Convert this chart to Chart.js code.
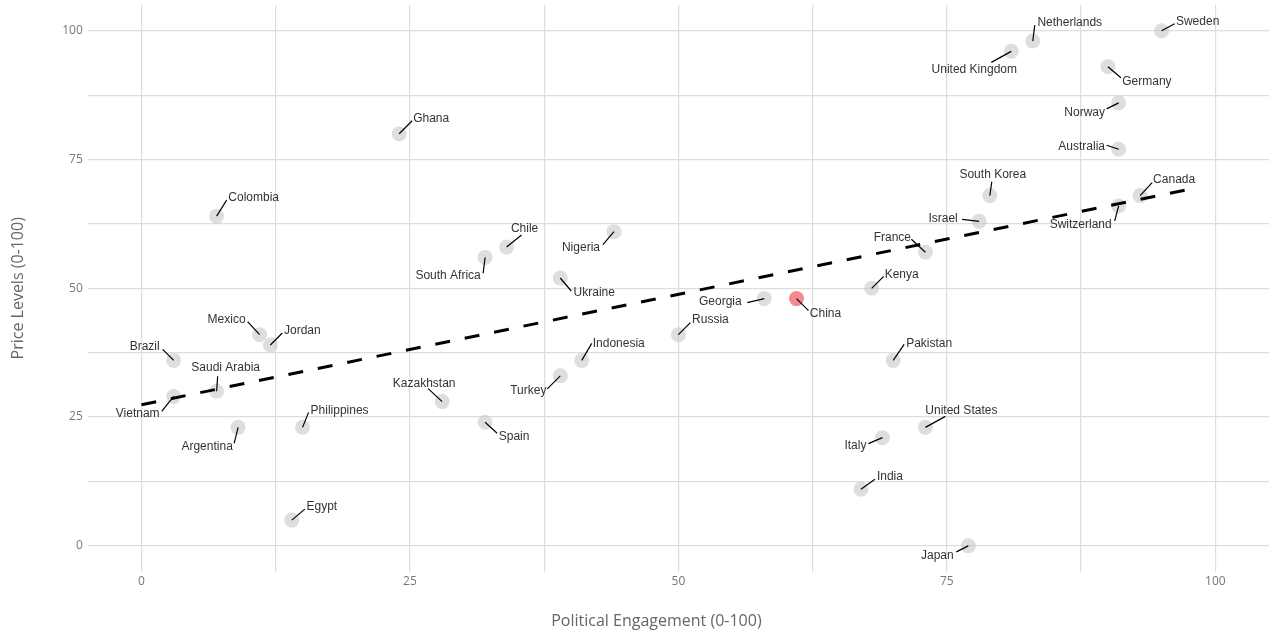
<!DOCTYPE html>
<html>
<head>
<meta charset="utf-8">
<script src="https://cdn.jsdelivr.net/npm/chart.js@4"></script>
<style>
  body { margin: 0; background: #fff; }
  canvas { display: block; }
</style>
</head>
<body>
<canvas id="grafico" width="1269" height="636"></canvas>
<script>
// Datos
const paises = ['Sweden', 'Netherlands', 'United Kingdom', 'Germany', 'Norway', 'Australia',
  'South Korea', 'Israel', 'France', 'Canada', 'Switzerland', 'Kenya', 'Georgia', 'China',
  'Russia', 'Indonesia', 'Turkey', 'Spain', 'Italy', 'India', 'Pakistan', 'United States',
  'Japan', 'Ghana', 'Colombia', 'South Africa', 'Chile', 'Nigeria', 'Ukraine', 'Mexico',
  'Jordan', 'Brazil', 'Saudi Arabia', 'Vietnam', 'Argentina', 'Philippines', 'Kazakhstan', 'Egypt'];
const compromisoPolitico = [95, 83, 81, 90, 91, 91, 79, 78, 73, 93, 91, 68, 58, 61,
  50, 41, 39, 32, 69, 67, 70, 73, 77, 24, 7, 32, 34, 44, 39, 11, 12, 3, 7, 3, 9, 15, 28, 14];
const nivelPrecios = [100, 98, 96, 93, 86, 77, 68, 63, 57, 68, 66, 50, 48, 48,
  41, 36, 33, 24, 21, 11, 36, 23, 0, 80, 64, 56, 58, 61, 52, 41, 39, 36, 30, 29, 23, 23, 28, 5];
const paisDestacado = 'China';

// Línea de tendencia (extremos leídos)
const tendenciaX = [0, 98.2];
const tendenciaY = [27.4, 69.5];

// Marcas del eje
const lineasGuia = [0, 12.5, 25, 37.5, 50, 62.5, 75, 87.5, 100];

// Posición de las etiquetas en píxeles respecto al punto: [centroX, centroY, finLineaX, finLineaY]
const posEtiquetas = {
  'Sweden': [36, -9, 13, -7], 'Netherlands': [37, -18, 2, -16], 'United Kingdom': [-37, 18, -20, 11],
  'Germany': [39, 15, 13, 11], 'Norway': [-34, 10, -12, 6], 'Australia': [-37, -3, -12, -4],
  'South Korea': [3, -21, 2, -14], 'Israel': [-36, -3, -17, -2], 'France': [-33, -15, -14, -13],
  'Canada': [34, -16, 12, -13], 'Switzerland': [-38, 19, -4, 15], 'Kenya': [30, -14, 12, -12],
  'Georgia': [-44, 3, -17, 4], 'China': [29, 15, 12, 12], 'Russia': [32, -15, 12, -12],
  'Indonesia': [37, -17, 10, -17], 'Turkey': [-32, 15, -13, 13], 'Spain': [29, 14, 12, 11],
  'Italy': [-27, 8, -14, 6], 'India': [29, -12, 14, -10], 'Pakistan': [36, -17, 11, -16],
  'United States': [36, -17, 20, -11], 'Japan': [-31, 10, -12, 6], 'Ghana': [32, -15, 13, -13],
  'Colombia': [37, -18, 10, -16], 'South Africa': [-37, 18, -2, 16], 'Chile': [18, -18, 15, -12],
  'Nigeria': [-33, 16, -11, 13], 'Ukraine': [34, 15, 11, 13], 'Mexico': [-33, -15, -12, -13],
  'Jordan': [32, -14, 12, -12], 'Brazil': [-29, -14, -11, -11], 'Saudi Arabia': [9, -24, 1, -15],
  'Vietnam': [-36, 17, -12, 15], 'Argentina': [-31, 19, -4, 16], 'Philippines': [37, -17, 6, -15],
  'Kazakhstan': [-18, -18, -14, -13], 'Egypt': [30, -13, 13, -11]
};

const tituloX = 'Political Engagement (0-100)';
const tituloY = 'Price Levels (0-100)';

const puntos = paises.map((p, i) => ({ x: compromisoPolitico[i], y: nivelPrecios[i], pais: p }));
const coloresPuntos = paises.map(p => p === paisDestacado ? 'rgba(238, 60, 66, 0.6)' : 'rgba(200, 200, 200, 0.6)');

// Plugin para dibujar las etiquetas con su línea guía
const etiquetasPlugin = {
  id: 'etiquetas',
  afterDatasetsDraw(chart) {
    const ctx = chart.ctx;
    const meta = chart.getDatasetMeta(1);
    ctx.save();
    ctx.font = '12px "Liberation Sans", Arial, sans-serif';
    ctx.textAlign = 'center';
    ctx.textBaseline = 'middle';
    meta.data.forEach((el, i) => {
      const pos = posEtiquetas[paises[i]];
      if (!pos) return;
      ctx.strokeStyle = '#000';
      ctx.lineWidth = 1.2;
      ctx.beginPath();
      ctx.moveTo(el.x, el.y);
      ctx.lineTo(el.x + pos[2], el.y + pos[3]);
      ctx.stroke();
      ctx.fillStyle = '#333';
      ctx.fillText(paises[i], el.x + pos[0], el.y + pos[1]);
    });
    // título del eje x, algo a la izquierda del centro como en el original
    const area = chart.chartArea;
    ctx.font = '16px "Open Sans", sans-serif';
    ctx.fillStyle = '#666';
    ctx.fillText(tituloX, (area.left + area.right) / 2 - 22, area.bottom + 50);
    ctx.restore();
  }
};

function ejeConfig(padding) {
  return {
    type: 'linear',
    min: -5,
    max: 105,
    afterBuildTicks: scale => {
      scale.ticks = lineasGuia.map(v => ({ value: v }));
    },
    afterFit: scale => {
      // sin margen extra por las etiquetas de los extremos
      scale.paddingTop = 0;
      scale.paddingBottom = 0;
      scale.paddingLeft = 0;
      scale.paddingRight = 0;
    },
    ticks: {
      padding: padding,
      color: '#777',
      font: { family: '"Open Sans", sans-serif', size: 12 },
      callback: v => (v % 25 === 0 ? v : '')
    },
    grid: { color: '#dddddd', lineWidth: 1.2, drawTicks: false },
    border: { display: false }
  };
}

const ejeX = ejeConfig(3);
const ejeY = ejeConfig(5);
ejeY.title = {
  display: true,
  text: tituloY,
  color: '#666',
  font: { family: '"Open Sans", sans-serif', size: 16 },
  padding: { top: 9, bottom: 29 }
};

new Chart(document.getElementById('grafico').getContext('2d'), {
  data: {
    datasets: [
      {
        type: 'line',
        data: tendenciaX.map((x, i) => ({ x: x, y: tendenciaY[i] })),
        borderColor: '#000',
        borderWidth: 3,
        borderDash: [15, 15],
        pointRadius: 0,
        fill: false,
        order: 0
      },
      {
        type: 'scatter',
        data: puntos,
        backgroundColor: coloresPuntos,
        borderWidth: 0,
        pointRadius: 7.5,
        order: 1
      }
    ]
  },
  options: {
    responsive: false,
    animation: false,
    layout: { autoPadding: false, padding: { top: 5, right: 0, bottom: 44, left: 0 } },
    plugins: {
      legend: { display: false },
      tooltip: { enabled: false }
    },
    scales: { x: ejeX, y: ejeY }
  },
  plugins: [etiquetasPlugin]
});
</script>
</body>
</html>
